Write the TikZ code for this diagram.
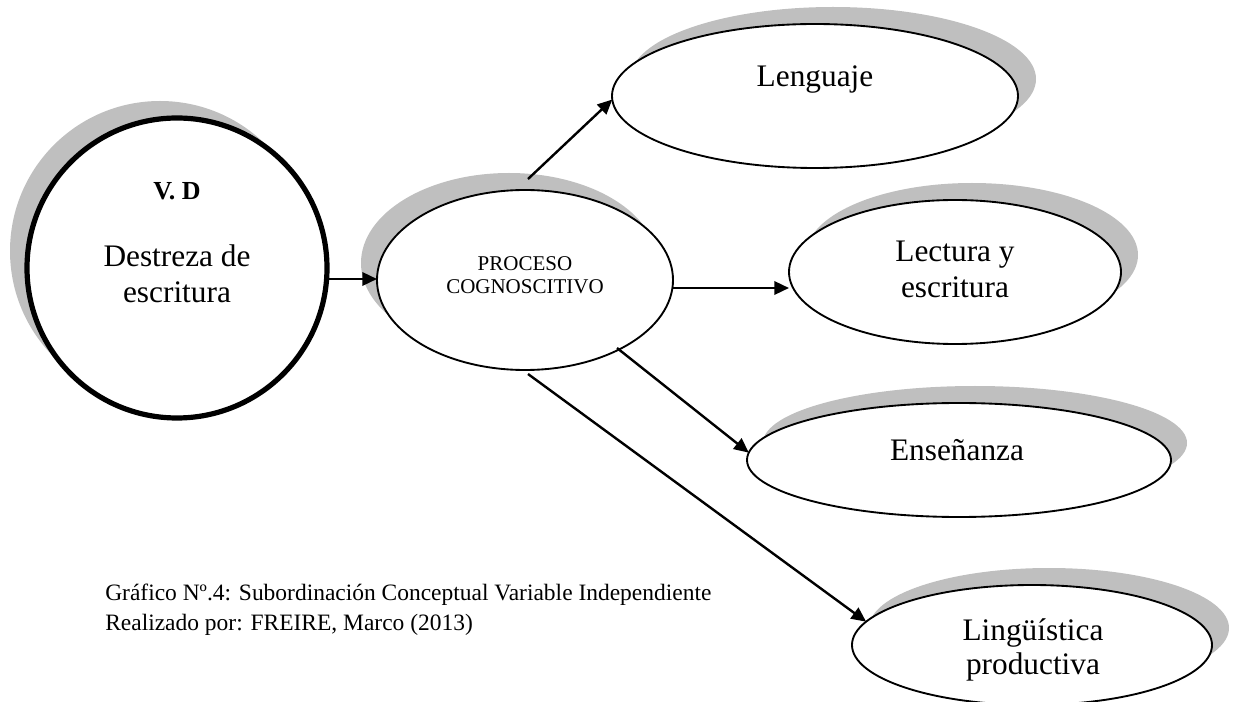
\documentclass[tikz,border=0pt]{standalone}
\usepackage{fontspec}
\setmainfont{Liberation Serif}
\usetikzlibrary{shapes.geometric,arrows.meta}
\definecolor{shadowgray}{HTML}{BFBFBF}
\begin{document}
\begin{tikzpicture}[x=0.75pt,y=-0.75pt,
  oval/.style={ellipse, draw=black, line width=1.4pt, fill=white, inner sep=0pt, outer sep=0pt},
  shade/.style={fill=shadowgray},
  big/.style={font=\fontsize{23.5pt}{28pt}\selectfont, inner sep=0pt, anchor=base},
  small/.style={font=\fontsize{15.75pt}{19pt}\selectfont, inner sep=0pt, anchor=base},
  capt/.style={font=\fontsize{17.6pt}{21pt}\selectfont, inner sep=0pt, anchor=base west},
  arr/.style={line width=1.8pt, -{Triangle[length=11pt, width=10pt]}}
]
\useasboundingbox (0,0) rectangle (1240,702);

% shadows
\fill[shade] (160,251) circle [radius=150];
\fill[shade] (509,263) ellipse [x radius=148, y radius=90];
\fill[shade] (833,79) ellipse [x radius=203, y radius=72];
\fill[shade] (972,255) ellipse [x radius=166, y radius=72];
\fill[shade] (975,443) ellipse [x radius=212, y radius=57];
\fill[shade] (1049,628) ellipse [x radius=180, y radius=60];

% shapes
\node[oval, line width=3.9pt, minimum width={300*0.75pt}, minimum height={300*0.75pt}] (vd) at (177,268) {};
\node[oval, minimum width={296*0.75pt}, minimum height={180*0.75pt}] (proc) at (525,280) {};
\node[oval, minimum width={406*0.75pt}, minimum height={144*0.75pt}] (leng) at (815,96) {};
\node[oval, minimum width={332*0.75pt}, minimum height={144*0.75pt}] (lect) at (955,272) {};
\node[oval, minimum width={424*0.75pt}, minimum height={114*0.75pt}] (ense) at (959,460) {};
\node[oval, minimum width={360*0.75pt}, minimum height={120*0.75pt}] (ling) at (1032,645) {};

% texts
\node[big, font=\fontsize{19.5pt}{23pt}\selectfont\bfseries] (tvd) at (177,200) {V. D};
\node[big] (tvd1) at (177,267) {Destreza de};
\node[big] (tvd2) at (177,303) {escritura};
\node[small] (tp1) at (525,271) {PROCESO};
\node[small] (tp2) at (525,294) {COGNOSCITIVO};
\node[big] (tleng) at (815,87) {Lenguaje};
\node[big] (tlect1) at (955,262) {Lectura y};
\node[big] (tlect2) at (955,298) {escritura};
\node[big] (tense) at (957,460) {Enseñanza};
\node[big] (tling1) at (1033,640) {Lingüística};
\node[big] (tling2) at (1033,674) {productiva};

% caption
\node[capt] (cap1) at (105,600) {Gráfico Nº.4: Subordinación Conceptual Variable Independiente};
\node[capt] (cap2) at (105,630) {Realizado por: FREIRE, Marco (2013)};

% connectors
\coordinate (s1) at (329,279);
\coordinate (s2) at (528,179);
\coordinate (s3) at (673,288);
\coordinate (s4) at (617,348);
\coordinate (s5) at (528,374);
\draw[arr] (s1) -- (proc.west |- s1);
\draw[arr] (s2) -- (leng.181);
\draw[arr] (s3) -- (lect.west |- s3);
\draw[arr] (s4) -- (ense.178);
\draw[arr] (s5) -- (ling.172.6);
\end{tikzpicture}
\end{document}
